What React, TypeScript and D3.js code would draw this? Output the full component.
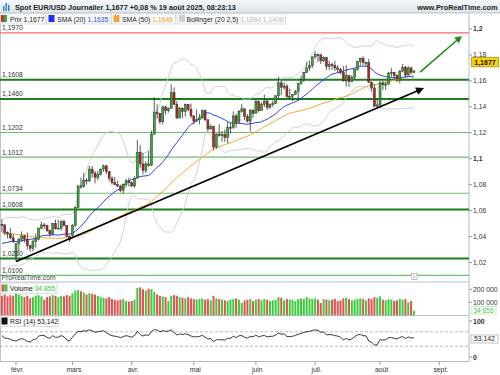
import React from 'react';
import * as d3 from 'd3';

// ---------- DATA ----------
// Closes before the visible window (Nov 1 2024 - Jan 24 2025), used to warm up SMA / Bollinger / RSI
const priorCloses = [
  1.0835, 1.0880, 1.0930, 1.0730, 1.0800, 1.0720, 1.0655, 1.0625, 1.0565, 1.0530, 1.0540, 1.0600, 1.0595, 1.0545, 1.0470, 1.0415, 1.0495, 1.0485, 1.0565, 1.0555, 1.0575,
  1.0500, 1.0510, 1.0510, 1.0585, 1.0565, 1.0555, 1.0525, 1.0500, 1.0470, 1.0500, 1.0515, 1.0490, 1.0350, 1.0365, 1.0430, 1.0405, 1.0405, 1.0400, 1.0420, 1.0430, 1.0405, 1.0355,
  1.0350, 1.0265, 1.0310, 1.0390, 1.0345, 1.0320, 1.0300, 1.0245, 1.0245, 1.0310, 1.0290, 1.0300, 1.0275, 1.0415, 1.0430, 1.0410, 1.0415, 1.0495,
];

// Visible daily candles, trading days from 27 Jan 2025 to 19 Aug 2025
const firstDay = '2025-01-27';
const opens = [
  1.0495, 1.0490, 1.0430, 1.0420, 1.0390, 1.0245, 1.0345, 1.0380, 1.0405, 1.0380,
  1.0330, 1.0310, 1.0360, 1.0380, 1.0465, 1.0490, 1.0485, 1.0445, 1.0420, 1.0500,
  1.0460, 1.0465, 1.0515, 1.0485, 1.0400, 1.0410, 1.0485, 1.0625, 1.0790, 1.0785,
  1.0835, 1.0830, 1.0920, 1.0890, 1.0855, 1.0880, 1.0920, 1.0945, 1.0900, 1.0850,
  1.0815, 1.0800, 1.0790, 1.0755, 1.0800, 1.0830, 1.0815, 1.0790, 1.0850, 1.1050,
  1.0960, 1.0910, 1.0960, 1.0950, 1.1190, 1.1360, 1.1350, 1.1285, 1.1400, 1.1370,
  1.1390, 1.1510, 1.1420, 1.1315, 1.1390, 1.1365, 1.1420, 1.1380, 1.1330, 1.1290,
  1.1300, 1.1315, 1.1370, 1.1300, 1.1230, 1.1250, 1.1090, 1.1190, 1.1180, 1.1185,
  1.1165, 1.1240, 1.1240, 1.1330, 1.1280, 1.1365, 1.1385, 1.1325, 1.1290, 1.1370,
  1.1350, 1.1440, 1.1370, 1.1420, 1.1445, 1.1395, 1.1420, 1.1425, 1.1485, 1.1585,
  1.1550, 1.1560, 1.1480, 1.1480, 1.1495, 1.1520, 1.1580, 1.1610, 1.1665, 1.1700,
  1.1720, 1.1785, 1.1805, 1.1800, 1.1755, 1.1780, 1.1710, 1.1725, 1.1720, 1.1700,
  1.1690, 1.1665, 1.1600, 1.1640, 1.1595, 1.1625, 1.1690, 1.1750, 1.1775, 1.1740,
  1.1740, 1.1590, 1.1545, 1.1405, 1.1415, 1.1585, 1.1570, 1.1575, 1.1660, 1.1665,
  1.1640, 1.1615, 1.1675, 1.1705, 1.1645, 1.1700, 1.1665,
];
const highs = [
  1.0533, 1.0495, 1.0440, 1.0465, 1.0420, 1.0345, 1.0390, 1.0440, 1.0415, 1.0430,
  1.0335, 1.0375, 1.0420, 1.0470, 1.0515, 1.0505, 1.0490, 1.0455, 1.0505, 1.0530,
  1.0530, 1.0525, 1.0530, 1.0490, 1.0410, 1.0497, 1.0630, 1.0795, 1.0855, 1.0890,
  1.0850, 1.0945, 1.0945, 1.0905, 1.0905, 1.0925, 1.0955, 1.0955, 1.0905, 1.0865,
  1.0860, 1.0830, 1.0800, 1.0810, 1.0845, 1.0855, 1.0825, 1.0865, 1.1145, 1.1105,
  1.1045, 1.0980, 1.1060, 1.1215, 1.1475, 1.1420, 1.1350, 1.1405, 1.1405, 1.1395,
  1.1573, 1.1550, 1.1445, 1.1400, 1.1395, 1.1425, 1.1420, 1.1425, 1.1335, 1.1380,
  1.1345, 1.1380, 1.1380, 1.1305, 1.1265, 1.1255, 1.1195, 1.1265, 1.1215, 1.1225,
  1.1285, 1.1275, 1.1365, 1.1345, 1.1375, 1.1420, 1.1385, 1.1345, 1.1385, 1.1385,
  1.1455, 1.1450, 1.1435, 1.1495, 1.1455, 1.1425, 1.1450, 1.1490, 1.1630, 1.1615,
  1.1590, 1.1575, 1.1540, 1.1500, 1.1530, 1.1585, 1.1640, 1.1670, 1.1745, 1.1755,
  1.1790, 1.1830, 1.1810, 1.1810, 1.1790, 1.1785, 1.1755, 1.1740, 1.1755, 1.1720,
  1.1700, 1.1715, 1.1720, 1.1645, 1.1645, 1.1695, 1.1755, 1.1780, 1.1790, 1.1750,
  1.1770, 1.1595, 1.1575, 1.1460, 1.1600, 1.1600, 1.1595, 1.1670, 1.1700, 1.1670,
  1.1650, 1.1685, 1.1730, 1.1715, 1.1715, 1.1710, 1.1680,
];
const lows = [
  1.0435, 1.0410, 1.0385, 1.0380, 1.0350, 1.0210, 1.0285, 1.0360, 1.0355, 1.0300,
  1.0285, 1.0285, 1.0315, 1.0370, 1.0455, 1.0460, 1.0435, 1.0400, 1.0410, 1.0455,
  1.0460, 1.0445, 1.0480, 1.0395, 1.0360, 1.0400, 1.0475, 1.0620, 1.0770, 1.0775,
  1.0800, 1.0820, 1.0855, 1.0810, 1.0835, 1.0870, 1.0900, 1.0880, 1.0825, 1.0800,
  1.0795, 1.0780, 1.0740, 1.0730, 1.0780, 1.0785, 1.0780, 1.0775, 1.0850, 1.0930,
  1.0880, 1.0890, 1.0935, 1.0945, 1.1185, 1.1310, 1.1265, 1.1265, 1.1340, 1.1355,
  1.1385, 1.1415, 1.1305, 1.1310, 1.1315, 1.1325, 1.1365, 1.1310, 1.1265, 1.1285,
  1.1265, 1.1305, 1.1290, 1.1205, 1.1225, 1.1065, 1.1075, 1.1170, 1.1130, 1.1130,
  1.1120, 1.1195, 1.1230, 1.1240, 1.1280, 1.1355, 1.1295, 1.1280, 1.1210, 1.1315,
  1.1350, 1.1355, 1.1370, 1.1400, 1.1375, 1.1385, 1.1400, 1.1420, 1.1465, 1.1490,
  1.1530, 1.1470, 1.1460, 1.1445, 1.1490, 1.1450, 1.1570, 1.1590, 1.1660, 1.1680,
  1.1700, 1.1770, 1.1745, 1.1730, 1.1745, 1.1685, 1.1685, 1.1685, 1.1675, 1.1660,
  1.1650, 1.1595, 1.1555, 1.1555, 1.1590, 1.1615, 1.1680, 1.1715, 1.1720, 1.1710,
  1.1585, 1.1520, 1.1400, 1.1400, 1.1392, 1.1530, 1.1530, 1.1570, 1.1630, 1.1615,
  1.1590, 1.1580, 1.1665, 1.1630, 1.1640, 1.1650, 1.1660,
];
const closes = [
  1.0490, 1.0430, 1.0420, 1.0390, 1.0362, 1.0345, 1.0380, 1.0405, 1.0380, 1.0330,
  1.0310, 1.0360, 1.0380, 1.0465, 1.0490, 1.0485, 1.0445, 1.0420, 1.0500, 1.0460,
  1.0465, 1.0515, 1.0485, 1.0400, 1.0375, 1.0485, 1.0625, 1.0790, 1.0785, 1.0835,
  1.0830, 1.0920, 1.0890, 1.0855, 1.0880, 1.0920, 1.0945, 1.0900, 1.0850, 1.0815,
  1.0800, 1.0790, 1.0755, 1.0800, 1.0830, 1.0815, 1.0790, 1.0850, 1.1050, 1.0960,
  1.0910, 1.0960, 1.0950, 1.1190, 1.1360, 1.1350, 1.1285, 1.1400, 1.1370, 1.1390,
  1.1510, 1.1420, 1.1315, 1.1390, 1.1365, 1.1420, 1.1380, 1.1330, 1.1290, 1.1300,
  1.1315, 1.1370, 1.1300, 1.1230, 1.1250, 1.1090, 1.1190, 1.1180, 1.1185, 1.1165,
  1.1240, 1.1240, 1.1330, 1.1280, 1.1365, 1.1385, 1.1325, 1.1290, 1.1370, 1.1350,
  1.1440, 1.1370, 1.1420, 1.1445, 1.1395, 1.1420, 1.1425, 1.1485, 1.1585, 1.1550,
  1.1560, 1.1480, 1.1480, 1.1495, 1.1520, 1.1580, 1.1610, 1.1665, 1.1700, 1.1720,
  1.1785, 1.1805, 1.1800, 1.1755, 1.1780, 1.1710, 1.1725, 1.1720, 1.1700, 1.1690,
  1.1665, 1.1600, 1.1640, 1.1595, 1.1625, 1.1690, 1.1750, 1.1775, 1.1740, 1.1740,
  1.1590, 1.1545, 1.1405, 1.1415, 1.1585, 1.1570, 1.1575, 1.1660, 1.1665, 1.1640,
  1.1615, 1.1675, 1.1705, 1.1645, 1.1700, 1.1665, 1.1677,
];
// volume in thousands
const volumesK = [
  150, 160, 145, 155, 150, 185, 160,
  150, 140, 150, 130, 140, 150, 155, 145, 120,
  140, 145, 155, 150, 140, 150, 145, 155,
  150, 170, 190, 195, 185,
  175, 160, 170, 165, 160, 150, 140,
  135, 130, 140, 125, 120, 115, 120, 125,
  110, 105, 110, 120, 210,
  215, 200, 190, 205, 200, 180, 160,
  150, 145, 140, 110, 150, 155, 150, 140, 135, 130, 140,
  130, 125, 120, 125, 130, 120, 125, 115, 150,
  130, 125, 120, 115, 110, 120, 125, 130, 120, 95, 115, 120, 125, 110,
  120, 125, 115, 125, 120, 110, 115, 120, 140, 135,
  115, 125, 120, 120, 110, 125, 130, 125, 140, 130,
  125, 130, 120, 95, 125, 120, 115, 120, 125, 110,
  115, 130, 135, 125, 115, 120, 125, 130, 125, 115,
  130, 125, 140, 135, 145, 120, 115, 125, 120, 110,
  115, 125, 120, 125, 100, 110, 34.855,
];

const levelValues = [1.1970, 1.1608, 1.1460, 1.1202, 1.1012, 1.0734, 1.0608, 1.0230, 1.0100];
const levelLabels = ['1,1970', '1,1608', '1,1460', '1,1202', '1,1012', '1,0734', '1,0608', '1,0230', '1,0100'];
const levelKinds = ['red', 'strong', 'strong', 'light', 'light', 'light', 'strong', 'strong', 'light'];

const priceTicks = [1.02, 1.04, 1.06, 1.08, 1.1, 1.12, 1.14, 1.16, 1.18, 1.2];
const priceTickLabels = ['1,02', '1,04', '1,06', '1,08', '1,1', '1,12', '1,14', '1,16', '1,18', '1,2'];
const volumeTicks = [100, 200];
const volumeTickLabels = ['100 000', '200 000'];
const monthStarts = ['2025-02-01', '2025-03-01', '2025-04-01', '2025-05-01', '2025-06-01', '2025-07-01', '2025-08-01', '2025-09-01'];
const monthLabels = ['févr.', 'mars', 'avr.', 'mai', 'juin', 'juil.', 'août', 'sept.'];

// drawn annotations: [trading-day index, price]
const trendStart = [5, 1.0208];
const trendEnd = [149.6, 1.1545];
const targetStart = [148.2, 1.1668];
const targetEnd = [163.0, 1.1946];

// ---------- HELPERS ----------
function parseDay(s: string) {
  const [y, m, d] = s.split('-').map(Number);
  return new Date(y, m - 1, d);
}
function tradingIndex(s: string) {
  const start = parseDay(firstDay);
  const end = parseDay(s);
  let n = 0;
  for (const t = new Date(start); t < end; t.setDate(t.getDate() + 1)) {
    const wd = t.getDay();
    if (wd !== 0 && wd !== 6) n++;
  }
  return n;
}

const FONT = '"Liberation Sans", Arial, sans-serif';

export default function App() {
  const P = priorCloses.length;
  const all = [...priorCloses, ...closes];
  const N = closes.length;

  const smaAt = (n: number, j: number) => d3.mean(all.slice(j - n + 1, j + 1)) as number;
  const sdAt = (n: number, j: number) => {
    const s = all.slice(j - n + 1, j + 1);
    const m = d3.mean(s) as number;
    return Math.sqrt(d3.sum(s, (v) => (v - m) * (v - m)) / n);
  };
  const sma20 = closes.map((_, i) => smaAt(20, P + i));
  const sma50 = closes.map((_, i) => smaAt(50, P + i));
  const bbUp = closes.map((_, i) => smaAt(20, P + i) + 2.5 * sdAt(20, P + i));
  const bbLo = closes.map((_, i) => smaAt(20, P + i) - 2.5 * sdAt(20, P + i));

  // RSI 14 (Wilder)
  const rsiAll: number[] = [];
  let ag = 0, al = 0;
  for (let j = 1; j < all.length; j++) {
    const ch = all[j] - all[j - 1];
    const g = Math.max(ch, 0), l = Math.max(-ch, 0);
    if (j <= 14) { ag += g / 14; al += l / 14; }
    else { ag = (ag * 13 + g) / 14; al = (al * 13 + l) / 14; }
    rsiAll[j] = al === 0 ? 100 : 100 - 100 / (1 + ag / al);
  }
  const rsi = closes.map((_, i) => rsiAll[P + i]);

  // ---------- SCALES ----------
  const PLOT_R = 469;
  const x = d3.scaleLinear().domain([0, 155]).range([1.9, 439.3]);
  const y = d3.scaleLinear().domain([1.02, 1.2]).range([262.5, 29]);
  const yv = d3.scaleLinear().domain([0, 200]).range([315.3, 289.3]);
  const yr = d3.scaleLinear().domain([0, 100]).range([357, 321]);

  const line = d3.line<number>().x((_, i) => x(i)).y((v) => y(v));
  const rsiLine = d3.line<number>().x((_, i) => x(i)).y((v) => yr(v));

  const levelStyle: Record<string, { stroke: string; w: number }> = {
    red: { stroke: '#f06a6a', w: 1.2 },
    strong: { stroke: '#1b7d1b', w: 2 },
    light: { stroke: '#6cbf6c', w: 1.2 },
  };

  const arrowHead = (from: number[], to: number[], len: number, half: number) => {
    const x1 = x(from[0]), y1 = y(from[1]), x2 = x(to[0]), y2 = y(to[1]);
    const a = Math.atan2(y2 - y1, x2 - x1);
    const bx = x2 - len * Math.cos(a), by = y2 - len * Math.sin(a);
    const px = -Math.sin(a) * half, py = Math.cos(a) * half;
    return `M${x2},${y2}L${bx + px},${by + py}L${bx - px},${by - py}Z`;
  };
  const shaft = (from: number[], to: number[], back: number) => {
    const x1 = x(from[0]), y1 = y(from[1]), x2 = x(to[0]), y2 = y(to[1]);
    const a = Math.atan2(y2 - y1, x2 - x1);
    return { x1, y1, x2: x2 - back * Math.cos(a), y2: y2 - back * Math.sin(a) };
  };
  const tr = shaft(trendStart, trendEnd, 5);
  const tg = shaft(targetStart, targetEnd, 5);

  const lastC = closes[N - 1];

  return (
    <div style={{ position: 'absolute', left: 0, top: 0 }}>
      <svg width={500} height={375} style={{ display: 'block', fontFamily: FONT }}>
        <defs>
          <linearGradient id="hdr" x1="0" y1="0" x2="0" y2="1">
            <stop offset="0" stopColor="#f5f8fa" />
            <stop offset="1" stopColor="#dbe4ea" />
          </linearGradient>
          <clipPath id="pclip"><rect x={0} y={26} width={PLOT_R} height={256} /></clipPath>
          <clipPath id="rclip"><rect x={0} y={315} width={PLOT_R} height={47} /></clipPath>
        </defs>
        <rect x={0} y={0} width={500} height={375} fill="#fff" />

        {/* header */}
        <rect x={0} y={0} width={500} height={13} fill="url(#hdr)" />
        <line x1={0} x2={500} y1={13} y2={13} stroke="#b7c5cf" />
        <g fill="#3b7fd0">
          <rect x={3} y={6} width={1.5} height={5} />
          <rect x={5.5} y={3} width={1.5} height={8} />
          <rect x={8} y={5} width={1.5} height={6} />
        </g>
        <text x={15} y={9.6} fontSize={7.3} fontWeight="bold" fill="#222">
          Spot EUR/USD Journalier 1,1677 +0,08 % 19 août 2025, 08:23:13
        </text>
        <text x={497.5} y={9.6} fontSize={7.3} fontWeight="bold" fill="#222" textAnchor="end">www.ProRealTime.com</text>

        {/* frame */}
        <line x1={0.5} x2={0.5} y1={13} y2={362} stroke="#b7c5cf" />
        <line x1={PLOT_R} x2={PLOT_R} y1={13} y2={362} stroke="#aebfca" />
        <line x1={0} x2={PLOT_R} y1={282} y2={282} stroke="#b7c5cf" />
        <line x1={0} x2={PLOT_R} y1={315.5} y2={315.5} stroke="#b7c5cf" />
        <line x1={0} x2={PLOT_R} y1={361.5} y2={361.5} stroke="#aebfca" />

        {/* price panel */}
        <g clipPath="url(#pclip)">
          {levelValues.map((v, i) => (
            <line key={i} x1={0} x2={PLOT_R} y1={y(v)} y2={y(v)} stroke={levelStyle[levelKinds[i]].stroke} strokeWidth={levelStyle[levelKinds[i]].w} />
          ))}
          <path d={line(bbUp) || ''} fill="none" stroke="#c9c9c9" strokeWidth={0.9} />
          <path d={line(bbLo) || ''} fill="none" stroke="#c9c9c9" strokeWidth={0.9} />
          <path d={line(sma50) || ''} fill="none" stroke="#f7a530" strokeWidth={1} />
          <path d={line(sma20) || ''} fill="none" stroke="#2f3fe6" strokeWidth={1} />
          {closes.map((c, i) => {
            const o = opens[i];
            const up = c >= o;
            const cx = x(i);
            const top = y(Math.max(o, c));
            const h = Math.max(1, y(Math.min(o, c)) - top);
            return (
              <g key={i}>
                <line x1={cx} x2={cx} y1={y(highs[i])} y2={y(lows[i])} stroke="#333" strokeWidth={0.8} />
                <rect x={cx - 1} y={top} width={2} height={h} fill={up ? '#2fae2f' : '#b52222'} stroke="#333" strokeWidth={0.5} />
              </g>
            );
          })}
          {/* trend line */}
          <line x1={tr.x1} y1={tr.y1} x2={tr.x2} y2={tr.y2} stroke="#000" strokeWidth={1.8} />
          <path d={arrowHead(trendStart, trendEnd, 8, 4)} fill="#000" />
          <line x1={tg.x1} y1={tg.y1} x2={tg.x2} y2={tg.y2} stroke="#1a8a1a" strokeWidth={1.5} />
          <path d={arrowHead(targetStart, targetEnd, 7, 3.6)} fill="#1a8a1a" />
        </g>
        {levelValues.map((v, i) => (
          <text key={i} x={2} y={y(v) - 2.6} fontSize={6.8} fill="#333">{levelLabels[i]}</text>
        ))}
        <text x={1.5} y={280} fontSize={6.8} fill="#444">ProRealTime.com</text>

        {/* legend row */}
        <g fontSize={6.8}>
          <rect x={0.5} y={13.5} width={44.5} height={10.5} fill="#fafafa" stroke="#cfd6db" strokeWidth={0.8} />
          <rect x={1} y={15} width={3} height={7} fill="#d62a2a" />
          <rect x={4} y={15} width={3} height={7} fill="#2fae2f" />
          <text x={10} y={21.5} fill="#222">Prix 1,1677</text>

          <rect x={46.5} y={13.5} width={63.5} height={10.5} fill="#fafafa" stroke="#cfd6db" strokeWidth={0.8} />
          <rect x={48.5} y={15} width={6} height={7} fill="#1d2ff0" />
          <text x={57.3} y={21.5} fill="#222">SMA (20) <tspan fill="#3344ee">1,1635</tspan></text>

          <rect x={111.5} y={13.5} width={64} height={10.5} fill="#fafafa" stroke="#cfd6db" strokeWidth={0.8} />
          <rect x={113.5} y={15} width={6} height={7} fill="#f7a530" />
          <text x={122} y={21.5} fill="#222">SMA (50) <tspan fill="#f39a2a">1,1646</tspan></text>

          <rect x={177} y={13.5} width={108.5} height={10.5} fill="#fafafa" stroke="#cfd6db" strokeWidth={0.8} />
          <rect x={179} y={15} width={6} height={7} fill="#d0d0d0" />
          <text x={186.5} y={21.5} fill="#222">Bollinger (20 2,5) <tspan fill="#c0c0c0">1,1884  1,1406</tspan></text>
        </g>

        {/* price axis */}
        {priceTicks.map((t, i) => (
          <g key={i}>
            <line x1={PLOT_R} x2={PLOT_R + 3} y1={y(t)} y2={y(t)} stroke="#8a9aa5" />
            <text x={PLOT_R + 4} y={y(t) + 2.4} fontSize={6.8} fill="#333" fontWeight={t === 1.2 || t === 1.1 ? 'bold' : 'normal'}>{priceTickLabels[i]}</text>
          </g>
        ))}
        <rect x={471.5} y={57.3} width={27} height={9.6} fill="#ffd000" stroke="#8a7a20" strokeWidth={0.6} />
        <text x={485} y={64.6} fontSize={7} fontWeight="bold" fill="#111" textAnchor="middle">{String(lastC.toFixed(4)).replace('.', ',')}</text>

        {/* small marker */}
        <rect x={411.5} y={273.5} width={5.5} height={6} fill="#fff" stroke="#999" strokeWidth={0.6} />
        <line x1={414.2} x2={414.2} y1={275} y2={278.3} stroke="#777" strokeWidth={0.6} />

        {/* volume panel */}
        {volumesK.map((v, i) => (
          <rect key={i} x={x(i) - 1} y={yv(v)} width={2} height={yv(0) - yv(v)} fill={closes[i] >= opens[i] ? '#3ccb3c' : '#e25252'} />
        ))}
        <rect x={0.5} y={283} width={56.5} height={10.5} fill="#fafafa" stroke="#cfd6db" strokeWidth={0.8} />
        <rect x={1.5} y={284.5} width={3} height={7} fill="#e25252" />
        <rect x={4.5} y={284.5} width={3} height={7} fill="#3ccb3c" />
        <text x={10} y={291} fontSize={6.8} fill="#222">Volume <tspan fill="#3ccb3c">34 855</tspan></text>
        {volumeTicks.map((t, i) => (
          <g key={i}>
            <line x1={PLOT_R} x2={PLOT_R + 3} y1={yv(t)} y2={yv(t)} stroke="#8a9aa5" />
            <text x={PLOT_R + 4} y={yv(t) + 2.4} fontSize={6.8} fill="#333">{volumeTickLabels[i]}</text>
          </g>
        ))}
        <rect x={471} y={306.5} width={25} height={7.5} fill="#fff" stroke="#a8d8a8" strokeWidth={0.6} />
        <text x={483.5} y={312.6} fontSize={6.6} fill="#3ccb3c" textAnchor="middle">34 855</text>

        {/* RSI panel */}
        <line x1={0} x2={PLOT_R} y1={yr(70)} y2={yr(70)} stroke="#aaa" strokeDasharray="3,2" strokeWidth={0.8} />
        <line x1={0} x2={PLOT_R} y1={yr(30)} y2={yr(30)} stroke="#aaa" strokeDasharray="3,2" strokeWidth={0.8} />
        <g clipPath="url(#rclip)">
          <path d={rsiLine(rsi) || ''} fill="none" stroke="#222" strokeWidth={0.9} />
        </g>
        <rect x={0.5} y={316} width={58} height={10.5} fill="#fafafa" stroke="#cfd6db" strokeWidth={0.8} />
        <rect x={1.5} y={317.5} width={6} height={7} fill="#111" />
        <text x={10} y={324} fontSize={6.8} fill="#222">RSI (14) 53,142</text>
        <line x1={PLOT_R} x2={PLOT_R + 3} y1={yr(100)} y2={yr(100)} stroke="#8a9aa5" />
        <text x={PLOT_R + 4} y={yr(100) + 2.5} fontSize={7} fontWeight="bold" fill="#333">100</text>
        <line x1={PLOT_R} x2={PLOT_R + 3} y1={yr(0)} y2={yr(0)} stroke="#8a9aa5" />
        <text x={PLOT_R + 4} y={yr(0) + 2.5} fontSize={7} fontWeight="bold" fill="#333">0</text>
        <rect x={471} y={335} width={27} height={8} fill="#fff" stroke="#999" strokeWidth={0.6} />
        <text x={484.5} y={341.4} fontSize={6.8} fill="#222" textAnchor="middle">53,142</text>

        {/* time axis */}
        {monthStarts.map((d, i) => {
          const xi = x(tradingIndex(d));
          return (
            <g key={i}>
              <line x1={xi} x2={xi} y1={362} y2={365} stroke="#8a9aa5" />
              <text x={xi + 1.5} y={372} fontSize={6.8} fill="#333" textAnchor="middle">{monthLabels[i]}</text>
            </g>
          );
        })}
      </svg>
    </div>
  );
}
